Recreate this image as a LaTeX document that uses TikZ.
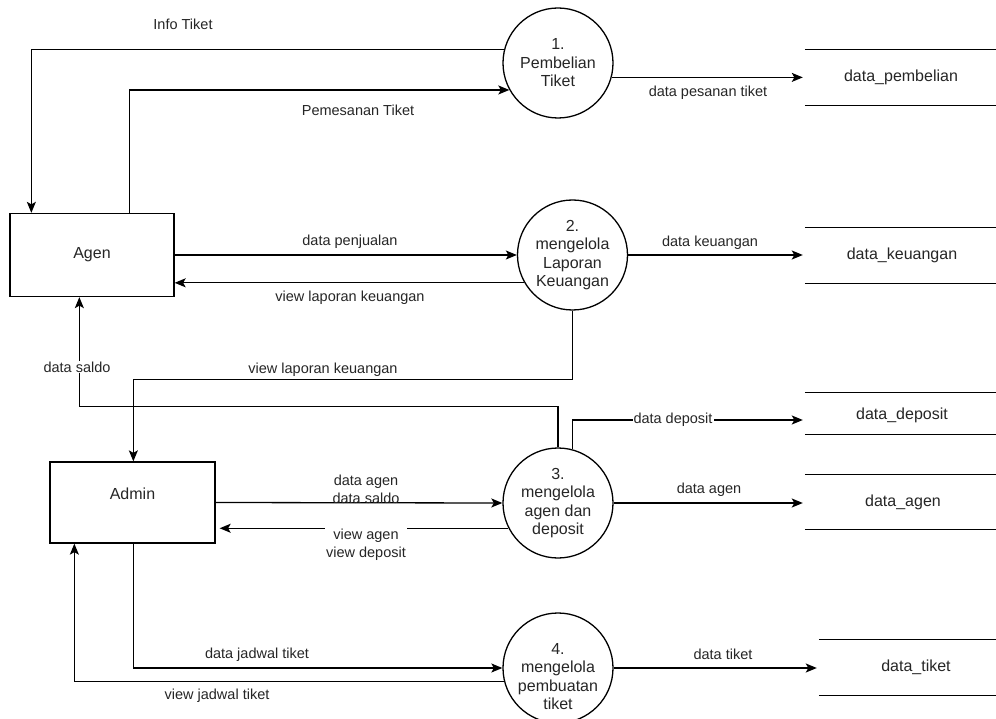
\documentclass[tikz,border=0pt]{standalone}
\usepackage{fontspec}
\setmainfont{Liberation Sans}
\usetikzlibrary{arrows.meta,calc}
\tikzset{
  proc/.style={circle,draw,line width=1.3pt,minimum size=110pt,inner sep=0pt,align=center,text=black!85,font=\fontsize{16}{18.5}\selectfont},
  ext/.style={rectangle,draw,line width=1.3pt,inner sep=0pt},
  enttext/.style={text=black!85,font=\fontsize{16}{19}\selectfont},
  store/.style={rectangle,inner sep=0pt,text=black!85,font=\fontsize{16}{19}\selectfont},
  storeline/.style={line width=1.3pt},
  flow/.style={line width=1.3pt,-{Stealth[length=11pt,width=9pt,inset=2.5pt]}},
  lbl/.style={font=\fontsize{14.5}{18}\selectfont,align=center,inner sep=1pt,text=black!85}
}
\begin{document}
\begin{tikzpicture}[x=1pt,y=-1pt]
\useasboundingbox (0,0) rectangle (996,719);
\fill[white] (0,0) rectangle (996,719);

% external entities
\node[ext,minimum width=164pt,minimum height=83pt] (agen) at (92,255) {};
\node[enttext] (agentxt) at (agen.center) {Agen};
\node[ext,minimum width=165pt,minimum height=81pt] (admin) at (132.5,502.5) {};
\node[enttext] (admintxt) at ([yshift=9pt]admin.center) {Admin};

% processes
\node[proc] (p1) at (558,63) {1.\\Pembelian\\Tiket};
\node[proc] (p2) at (572.5,255) {2.\\mengelola\\Laporan\\Keuangan};
\node[proc] (p3) at (558,503) {3.\\mengelola\\agen dan\\deposit};
\node[proc] (p4) at (558,668) {};
\node[align=center,text=black!85,font=\fontsize{16}{18.5}\selectfont] (p4txt) at ([yshift=-8.5pt]p4.center) {4.\\mengelola\\pembuatan\\tiket};

% data stores
\node[store,minimum width=192pt,minimum height=55pt] (s1) at (901,77.5) {data\_pembelian};
\node[store,minimum width=194pt,minimum height=55pt] (s2) at (902,255.5) {data\_keuangan};
\node[store,minimum width=194pt,minimum height=41pt] (s3) at (902,413.5) {};
\node[store] (s3txt) at (902,415) {data\_deposit};
\node[store,minimum width=196pt,minimum height=54pt] (s4) at (903,502) {data\_agen};
\node[store,minimum width=194pt,minimum height=55pt] (s5) at (916,667.5) {data\_tiket};
\foreach \s in {s1,s2,s3,s4,s5}{
  \draw[storeline] (\s.north west) -- (\s.north east) (\s.south west) -- (\s.south east);
}

% flows
\draw[flow] (p1.166) -| ([xshift=22pt]agen.north west);
\node[lbl] (l1) at (183,24) {Info Tiket};
\draw[flow] ([xshift=120pt]agen.north west) |- (p1.209);
\node[lbl] (l2) at (358,110) {Pemesanan Tiket};
\draw[flow] (p1.-15) -- ([xshift=-2pt]p1.-15 -| s1.west);
\node[lbl] (l3) at (708,93) {data pesanan tiket};

\draw[flow] (agen.east) -- (p2.west);
\node[lbl] (l4) at (350,242) {data penjualan};
\draw[flow] (p2.210) -- (p2.210 -| agen.east);
\node[lbl] (l5) at (350,298) {view laporan keuangan};
\draw[flow] (p2.east) -- ([xshift=-2pt]p2.east -| s2.west);
\node[lbl] (l6) at (710,243) {data keuangan};

\draw[flow] (p2.south) -- ++(0,69) -| ([xshift=84pt]admin.north west);
\node[lbl] (l7) at (323,370) {view laporan keuangan};

\draw[flow] (p3.north) -- ++(0,-41) -| ([xshift=70pt]agen.south west);
\node[lbl,fill=white] (l8) at (77,367) {data saldo};

\draw[flow] (p3.75) |- ([xshift=-2pt,yshift=-6.5pt]s3.west);
\node[lbl,fill=white] (l9) at (673,420) {data deposit};

\draw[flow] (admin.east) -- (p3.west);
\node[lbl] (l10) at (366,489) {data agen\\data saldo};
\draw[flow] (p3.207) -- ([xshift=4pt]p3.207 -| admin.east);
\node[lbl,fill=white] (l11) at (366,545) {view agen\\view deposit};
\draw[flow] (p3.east) -- ([xshift=-2pt]p3.east -| s4.west);
\node[lbl] (l12) at (709,490) {data agen};

\draw[flow] ([xshift=84pt]admin.south west) |- (p4.west);
\node[lbl] (l13) at (257,655) {data jadwal tiket};
\draw[flow] (p4.194) -| ([xshift=25pt]admin.south west);
\node[lbl] (l14) at (217,696) {view jadwal tiket};
\draw[flow] (p4.east) -- ([xshift=-2pt]p4.east -| s5.west);
\node[lbl] (l15) at (723,654) {data tiket};
\end{tikzpicture}
\end{document}
